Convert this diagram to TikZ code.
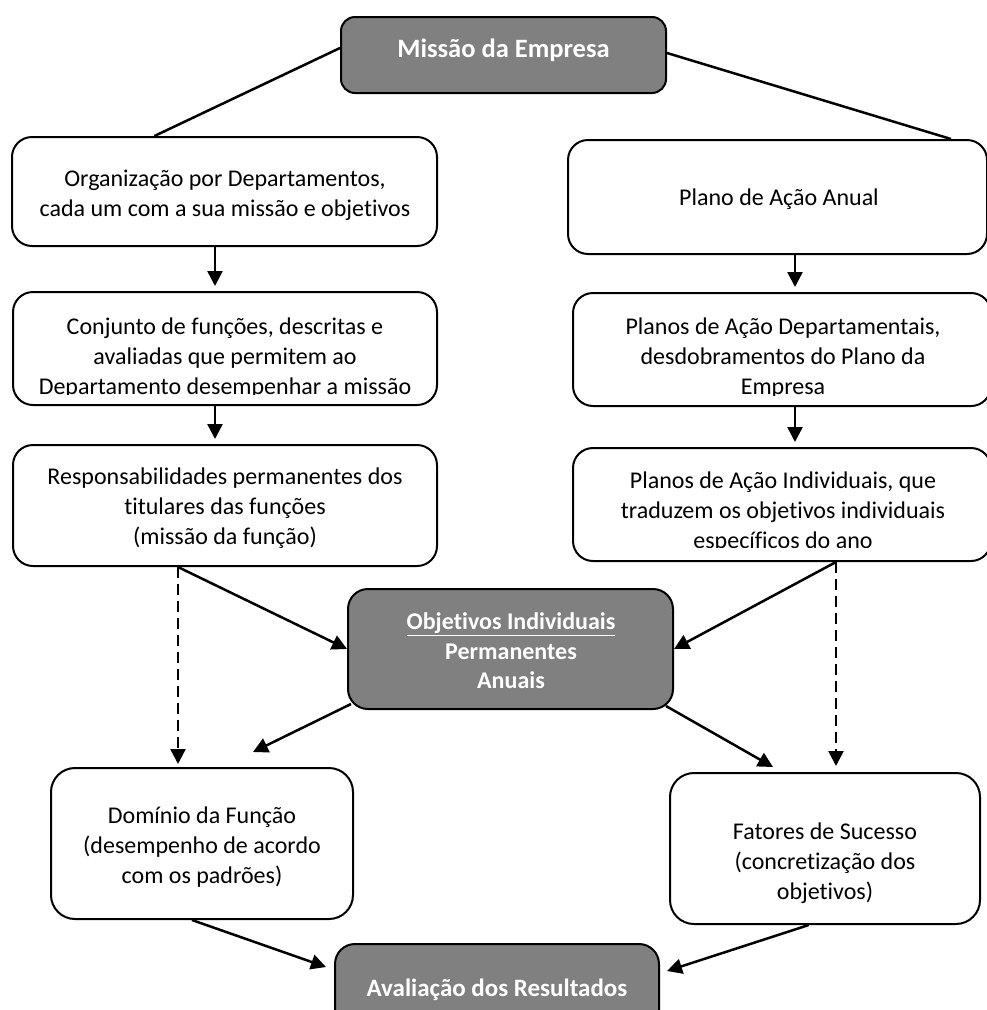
\documentclass[tikz,border=0pt]{standalone}
\usepackage{fontspec}
\setmainfont[Ligatures=NoCommon]{Carlito}
\usetikzlibrary{arrows.meta,calc}
\definecolor{keygray}{RGB}{128,128,128}

\begin{document}
\begin{tikzpicture}[x=1pt,y=-1pt,
  box/.style={draw, line width=2pt, rounded corners=20pt, fill=white, inner sep=0pt},
  keybox/.style={box, fill=keygray},
  lbl/.style={align=center, inner sep=0pt, font=\fontsize{24}{30}\selectfont},
  keylbl/.style={lbl, text=white, font=\fontsize{24}{29.5}\selectfont\bfseries},
  link/.style={line width=2.5pt},
  arr/.style={link, -{Triangle[length=15pt,width=15pt]}},
  darr/.style={arr, dash pattern=on 11pt off 6pt},
]
\useasboundingbox (0,0) rectangle (987,1010);

% boxes
\node[keybox, rounded corners=14pt, minimum width=325pt, minimum height=76pt] (miss) at (503.5,55) {};
\node[box, minimum width=425pt, minimum height=109pt] (org) at (224.5,191.5) {};
\node[box, minimum width=419pt, minimum height=114pt] (plano) at (777.5,197) {};
\node[box, minimum width=424pt, minimum height=113pt] (conj) at (225,348.5) {};
\node[box, minimum width=418pt, minimum height=113pt] (dep) at (782,349.5) {};
\node[box, minimum width=424pt, minimum height=121pt] (resp) at (225,505.5) {};
\node[box, minimum width=418pt, minimum height=113pt] (ind) at (782,504.5) {};
\node[keybox, minimum width=325pt, minimum height=120pt] (obj) at (510.5,649) {};
\node[box, rounded corners=24pt, minimum width=302pt, minimum height=151pt] (dom) at (202,843.5) {};
\node[box, rounded corners=24pt, minimum width=310pt, minimum height=151pt] (fat) at (825,848.5) {};
\node[keybox, minimum width=324pt, minimum height=92pt] (ava) at (497,990) {};

% texts
\node[keylbl, font=\fontsize{26.5}{32}\selectfont\bfseries] (misst) at (503.5,50) {Missão da Empresa};
\node[lbl] (orgt) at (225,195) {Organização por Departamentos,\\cada um com a sua missão e objetivos};
\node[lbl] (planot) at (779,199) {Plano de Ação Anual};
\begin{scope}
  \clip (conj.north west) rectangle ($(conj.south east)+(0,-12)$);
  \node[lbl] (conjt) at (225,358) {Conjunto de funções, descritas e\\avaliadas que permitem ao\\Departamento desempenhar a missão};
\end{scope}
\begin{scope}
  \clip (dep.north west) rectangle ($(dep.south east)+(0,-12)$);
  \node[lbl] (dept) at (783,358) {Planos de Ação Departamentais,\\desdobramentos do Plano da\\Empresa};
\end{scope}
\node[lbl] (respt) at (225,508) {Responsabilidades permanentes dos\\titulares das funções\\(missão da função)};
\begin{scope}
  \clip (ind.north west) rectangle ($(ind.south east)+(0,-15)$);
  \node[lbl] (indt) at (783,512) {Planos de Ação Individuais, que\\traduzem os objetivos individuais\\específicos do ano};
\end{scope}
\node[keylbl] (objt) at (511,651) {\underline{Objetivos Individuais}\\Permanentes\\Anuais};
\node[lbl] (domt) at (202,847) {Domínio da Função\\(desempenho de acordo\\com os padrões)};
\node[lbl] (fatt) at (825,863) {Fatores de Sucesso\\(concretização dos\\objetivos)};
\node[keylbl, font=\fontsize{25}{30}\selectfont\bfseries] (avat) at (497,990) {Avaliação dos Resultados};

% connectors
\coordinate (colL) at (215,0);
\coordinate (colR) at (795,0);
\coordinate (dashL) at (178,0);
\coordinate (dashR) at (836,0);
\coordinate (dl) at (253,752);
\coordinate (dr) at (773,767);

\draw[link] ($(miss.west)+(0,-7)$) -- ($(org.north west)!0.336!(org.north east)$);
\draw[link] ($(miss.east)+(0,-2)$) -- ($(plano.north west)!0.912!(plano.north east)$);

\draw[arr, shorten >=5pt] (org.south -| colL) -- (conj.north -| colL);
\draw[arr, shorten >=5pt] (conj.south -| colL) -- (resp.north -| colL);
\draw[arr, shorten >=5pt] (plano.south -| colR) -- (dep.north -| colR);
\draw[arr, shorten >=5pt] (dep.south -| colR) -- (ind.north -| colR);

\draw[arr] (resp.south -| dashL) -- (obj.west);
\draw[darr, shorten >=3pt] (resp.south -| dashL) -- (dom.north -| dashL);
\draw[arr] (ind.south -| dashR) -- (obj.east);
\draw[darr, shorten >=6pt] (ind.south -| dashR) -- (fat.north -| dashR);

\draw[arr] ($(obj.south west)+(4,-6)$) -- (dl);
\draw[arr] ($(obj.south east)+(-8,-4)$) -- (dr);

\draw[arr] ($(dom.south west)!0.467!(dom.south east)$) -- ($(ava.north west)+(-8,24)$);
\draw[arr] ($(fat.south west)!0.448!(fat.south east)$) -- ($(ava.north east)+(7,28)$);
\end{tikzpicture}
\end{document}
